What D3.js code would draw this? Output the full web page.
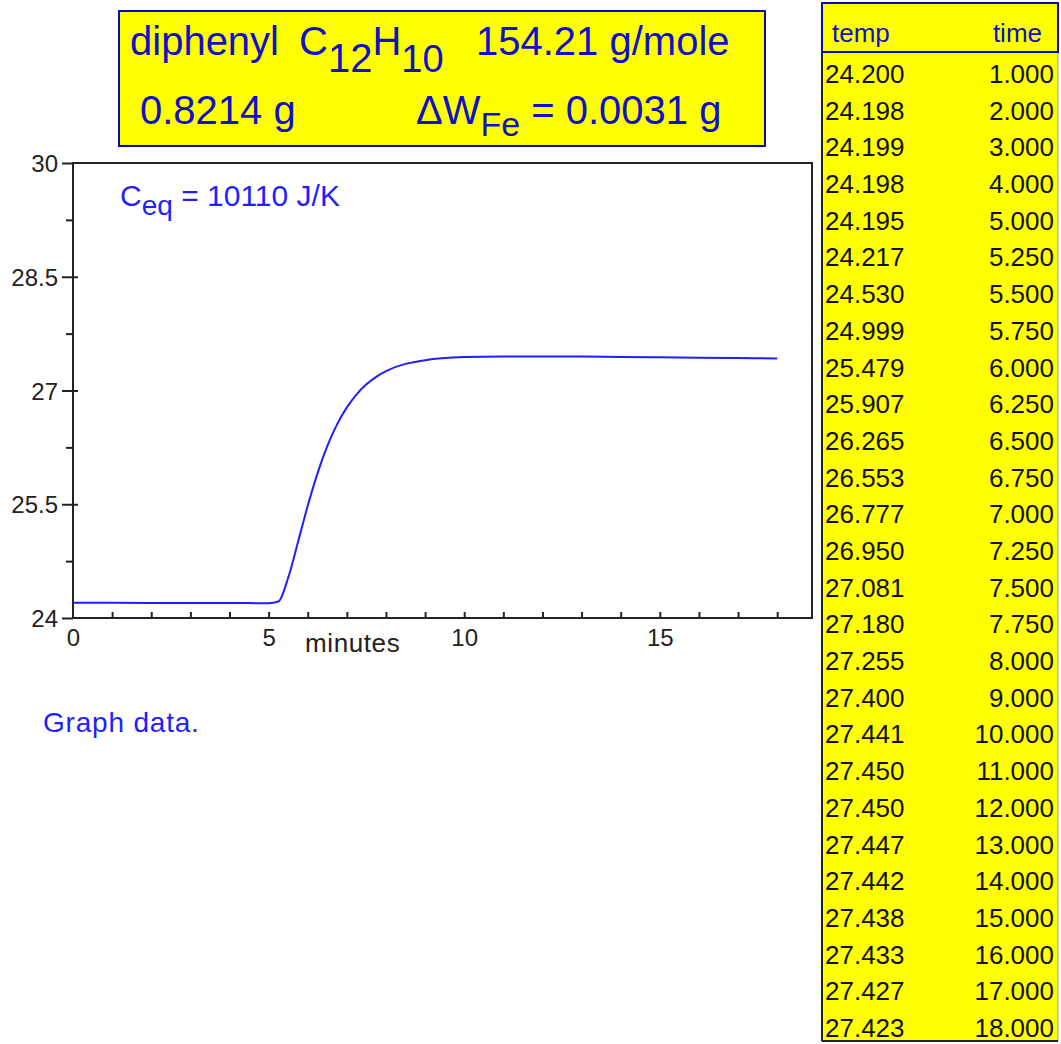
<!DOCTYPE html>
<html>
<head>
<meta charset="utf-8">
<script src="https://cdn.jsdelivr.net/npm/d3@7"></script>
<style>
  html, body { margin: 0; padding: 0; background: #fff; }
  svg { display: block; font-family: "Liberation Sans", Arial, sans-serif; }
</style>
</head>
<body>
<svg id="chart" width="1061" height="1044"></svg>
<script>
// Calorimeter run: temperature readings against time
const times = [1, 2, 3, 4, 5, 5.25, 5.5, 5.75, 6, 6.25, 6.5, 6.75, 7, 7.25, 7.5, 7.75, 8, 9, 10, 11, 12, 13, 14, 15, 16, 17, 18];
const temps = [24.200, 24.198, 24.199, 24.198, 24.195, 24.217, 24.530, 24.999, 25.479, 25.907, 26.265, 26.553, 26.777, 26.950, 27.081, 27.180, 27.255, 27.400, 27.441, 27.450, 27.450, 27.447, 27.442, 27.438, 27.433, 27.427, 27.423];
// starting reading at t = 0 (trace begins at the axis)
const startTime = 0;
const startTemp = 24.200;

const yTickLabels = [24, 25.5, 27, 28.5, 30];
const yMinorTicks = [24.75, 26.25, 27.75, 29.25];
const xTickLabels = [0, 5, 10, 15];
const xMinorTicks = d3.range(1, 19);

const svg = d3.select("#chart");
const blue = "#1f1fff";
const navy = "#1010c8";

// ---- header box ----
const hdr = svg.append("g");
hdr.append("rect").attr("x", 119).attr("y", 11).attr("width", 646).attr("height", 135)
  .attr("fill", "#ffff00").attr("stroke", "#0a0ab4").attr("stroke-width", 2);

const line1 = hdr.append("text").attr("x", 130).attr("y", 55)
  .attr("font-size", 40).attr("fill", navy);
line1.append("tspan").text("diphenyl");
line1.append("tspan").attr("x", 299).text("C");
line1.append("tspan").attr("dy", 17).text("12");
line1.append("tspan").attr("dy", -17).text("H");
line1.append("tspan").attr("dy", 17).attr("font-size", 38).text("10");
line1.append("tspan").attr("x", 476).attr("dy", -17).text("154.21 g/mole");

const line2 = hdr.append("text").attr("x", 140).attr("y", 124)
  .attr("font-size", 40).attr("fill", navy);
line2.append("tspan").text("0.8214 g");
line2.append("tspan").attr("x", 416).text("\u0394W");
line2.append("tspan").attr("dy", 12).attr("font-size", 34).text("Fe");
line2.append("tspan").attr("dy", -12).text(" = 0.0031 g");

// ---- plot ----
const x = d3.scaleLinear().domain([0, 18.89]).range([73, 812]);
const y = d3.scaleLinear().domain([24, 30]).range([618, 163]);

const axisColor = "#222";
svg.append("rect").attr("x", x(0)).attr("y", y(30))
  .attr("width", x(18.89) - x(0)).attr("height", y(24) - y(30))
  .attr("fill", "none").attr("stroke", axisColor).attr("stroke-width", 2);

// y axis: labelled ticks cross the axis, minor ticks sit outside
const yAxisMajor = d3.axisLeft(y).tickValues(yTickLabels).tickSize(11).tickPadding(4)
  .tickFormat(d3.format("~g"));
const gy = svg.append("g").attr("transform", `translate(${x(0)},0)`).call(yAxisMajor);
gy.select(".domain").remove();
gy.selectAll(".tick line").attr("stroke", axisColor).attr("stroke-width", 2).attr("x2", -11)
  .attr("x1", d => (d === 24 || d === 30) ? 0 : 5);
gy.selectAll(".tick text").attr("font-size", 24).attr("fill", "#222")
  .attr("font-family", "Liberation Sans, Arial, sans-serif").attr("x", -15).attr("dy", "0.36em");

const gyMinor = svg.append("g").attr("transform", `translate(${x(0)},0)`)
  .call(d3.axisLeft(y).tickValues(yMinorTicks).tickSize(7).tickFormat(""));
gyMinor.select(".domain").remove();
gyMinor.selectAll(".tick line").attr("stroke", axisColor).attr("stroke-width", 2);

// x axis: small inward ticks every minute
const gxMinor = svg.append("g").attr("transform", `translate(0,${y(24)})`)
  .call(d3.axisTop(x).tickValues(xMinorTicks).tickSize(6).tickFormat(""));
gxMinor.select(".domain").remove();
gxMinor.selectAll(".tick line").attr("stroke", axisColor).attr("stroke-width", 2);

const gx = svg.append("g").attr("transform", `translate(0,${y(24)})`)
  .call(d3.axisBottom(x).tickValues(xTickLabels).tickSize(0).tickPadding(11).tickFormat(d3.format("d")));
gx.select(".domain").remove();
gx.selectAll(".tick text").attr("font-size", 24).attr("fill", "#222")
  .attr("font-family", "Liberation Sans, Arial, sans-serif");

svg.append("text").attr("x", 305).attr("y", 652).attr("font-size", 26)
  .attr("fill", "#222").attr("letter-spacing", 0.6).text("minutes");

// temperature trace
const curveX = [startTime].concat(times);
const curveY = [startTemp].concat(temps);
const line = d3.line().x((d, i) => x(curveX[i])).y(d => y(d)).curve(d3.curveMonotoneX);
svg.append("path").datum(curveY).attr("d", line)
  .attr("fill", "none").attr("stroke", blue).attr("stroke-width", 2);

// heat capacity label
const ceq = svg.append("text").attr("x", 120).attr("y", 206).attr("font-size", 30).attr("fill", blue);
ceq.append("tspan").text("C");
ceq.append("tspan").attr("dy", 9).attr("font-size", 28).text("eq");
ceq.append("tspan").attr("dy", -9).text(" = 10110 J/K");

svg.append("text").attr("x", 43).attr("y", 732).attr("font-size", 28)
  .attr("letter-spacing", 0.8).attr("fill", blue).text("Graph data.");

// ---- data table ----
const tbl = svg.append("g");
const tblLeft = 822, tblRight = 1058, tblTop = 3, hdrBottom = 52, tblBottom = 1041;
tbl.append("rect").attr("x", tblLeft).attr("y", tblTop).attr("width", tblRight - tblLeft)
  .attr("height", tblBottom - tblTop).attr("fill", "#ffff00").attr("stroke", "#999").attr("stroke-width", 1);
tbl.append("rect").attr("x", tblLeft).attr("y", tblTop).attr("width", tblRight - tblLeft)
  .attr("height", hdrBottom - tblTop).attr("fill", "#ffff00").attr("stroke", "#0a0ab4").attr("stroke-width", 2);
tbl.append("line").attr("x1", tblLeft).attr("x2", tblLeft).attr("y1", hdrBottom).attr("y2", tblBottom)
  .attr("stroke", "#222").attr("stroke-width", 2);
tbl.append("line").attr("x1", tblLeft).attr("x2", tblRight).attr("y1", tblBottom).attr("y2", tblBottom)
  .attr("stroke", "#222").attr("stroke-width", 2);

tbl.append("text").attr("x", 832).attr("y", 42).attr("font-size", 26).attr("fill", navy).text("temp");
tbl.append("text").attr("x", 1042).attr("y", 42).attr("font-size", 26).attr("fill", navy)
  .attr("text-anchor", "end").text("time");

const rowY = d3.scaleLinear().domain([0, times.length - 1]).range([83, 1037]);
const fmt = d3.format(".3f");
const rows = tbl.selectAll("g.row").data(times).join("g").attr("class", "row")
  .attr("transform", (d, i) => `translate(0,${rowY(i)})`);
rows.append("text").attr("x", 825).attr("font-size", 26).attr("fill", "#111")
  .text((d, i) => fmt(temps[i]));
rows.append("text").attr("x", 1054).attr("text-anchor", "end").attr("font-size", 26).attr("fill", "#111")
  .text(d => fmt(d));
</script>
</body>
</html>
